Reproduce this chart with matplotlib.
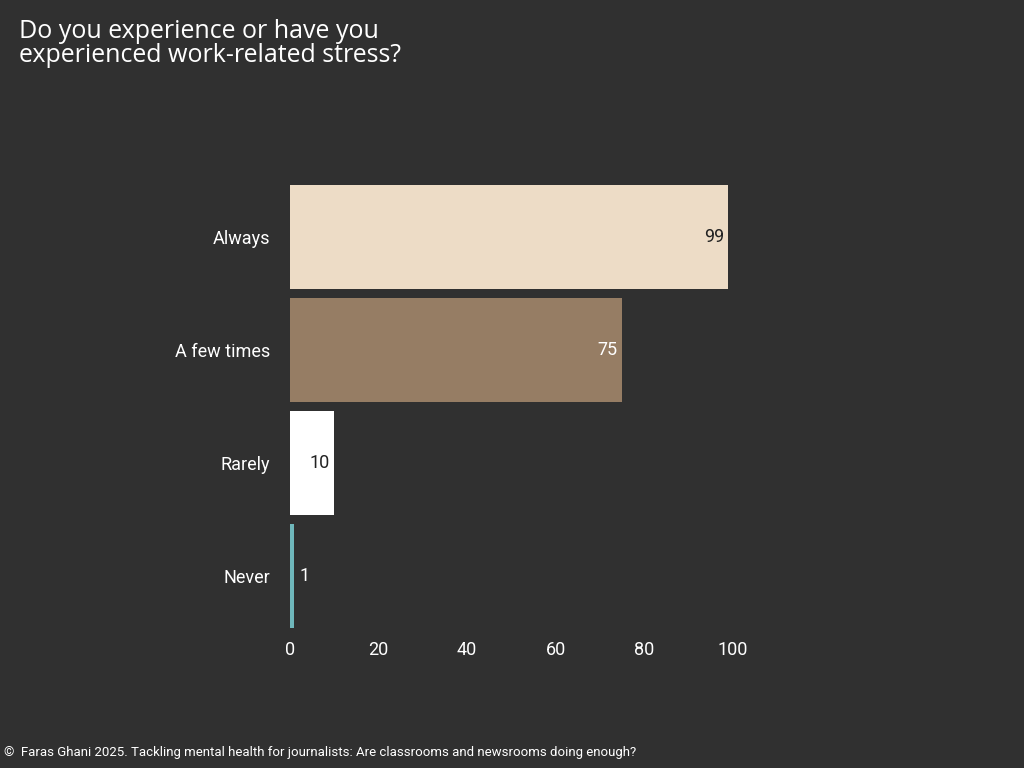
import matplotlib.pyplot as plt

categories = ['Always', 'A few times', 'Rarely', 'Never']
values = [99, 75, 10, 1]
bar_colors = ['#eddcc6', '#967d64', '#ffffff', '#6fb7bb']
label_colors = ['#222222', '#ffffff', '#222222', '#ffffff']
xticks = [0, 20, 40, 60, 80, 100]

bg = '#303030'
plt.rcParams['font.family'] = 'Roboto'

fig = plt.figure(figsize=(10.24, 7.68), dpi=100, facecolor=bg)
ax = fig.add_axes([0.283, 0.176, 0.4326, 0.589], facecolor=bg)

y = list(range(len(categories)))
ax.barh(y, values, height=0.92, color=bar_colors)
for yi, v, c in zip(y, values, label_colors):
    ax.text(v - 1, yi, str(v), ha='right', va='center', fontsize=13, color=c)
# small value sits outside the thin bar
ax.texts[-1].set_position((values[-1] + 1.2, y[-1]))
ax.texts[-1].set_ha('left')

ax.set_xlim(0, 100)
ax.set_ylim(3.5, -0.5)
ax.set_yticks(y)
ax.set_yticklabels(categories, fontsize=13, color='white')
ax.set_xticks(xticks)
ax.set_xticklabels([str(t) for t in xticks], fontsize=13, color='white')
ax.tick_params(length=0, pad=14)
ax.tick_params(axis='x', pad=6)
for s in ax.spines.values():
    s.set_visible(False)

fig.text(0.019, 0.975, 'Do you experience or have you\nexperienced work-related stress?',
         ha='left', va='top', fontsize=18, color='white', family='Open Sans',
         linespacing=0.95)
fig.text(0.004, 0.012, '©  Faras Ghani 2025. Tackling mental health for journalists: Are classrooms and newsrooms doing enough?',
         ha='left', va='bottom', fontsize=9.5, color='white')

fig.savefig('out.png', dpi=100, facecolor=bg)
